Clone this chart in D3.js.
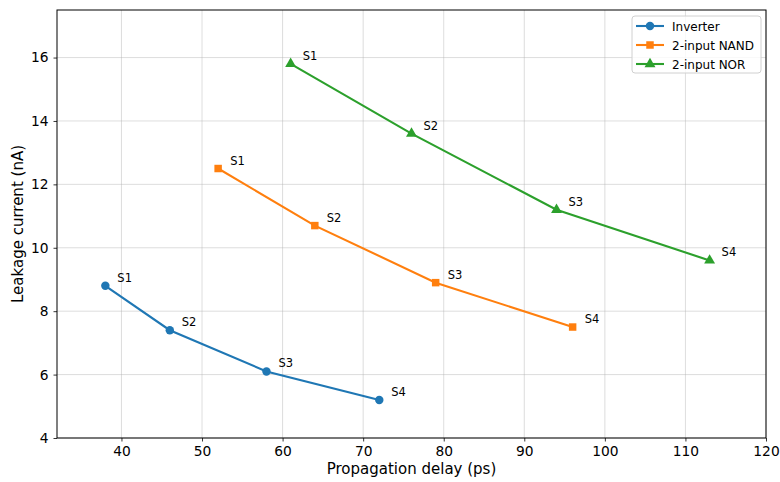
<!DOCTYPE html>
<html>
<head>
<meta charset="utf-8">
<script src="https://cdn.jsdelivr.net/npm/d3@7"></script>
<style>
  body { margin: 0; background: #fff; }
  svg { display: block; font-family: "DejaVu Sans", sans-serif; }
</style>
</head>
<body>
<div id="chart"></div>
<script>
// data
const stageLabels = ["S1", "S2", "S3", "S4"];
const inverterDelay = [38, 46, 58, 72];
const inverterLeak = [8.8, 7.4, 6.1, 5.2];
const nandDelay = [52, 64, 79, 96];
const nandLeak = [12.5, 10.7, 8.9, 7.5];
const norDelay = [61, 76, 94, 113];
const norLeak = [15.8, 13.6, 11.2, 9.6];
const xTicks = [40, 50, 60, 70, 80, 90, 100, 110, 120];
const yTicks = [4, 6, 8, 10, 12, 14, 16];

const series = [
  { name: "Inverter", x: inverterDelay, y: inverterLeak, color: "#1f77b4", marker: "circle" },
  { name: "2-input NAND", x: nandDelay, y: nandLeak, color: "#ff7f0e", marker: "square" },
  { name: "2-input NOR", x: norDelay, y: norLeak, color: "#2ca02c", marker: "triangle" }
];

const width = 780, height = 482;
const margin = { top: 10, right: 14, bottom: 44, left: 57 };

const svg = d3.select("#chart").append("svg")
  .attr("width", width).attr("height", height);

const x = d3.scaleLinear().domain([32, 120]).range([margin.left, width - margin.right]);
const y = d3.scaleLinear().domain([4, 17.5]).range([height - margin.bottom, margin.top]);

// grid
const grid = svg.append("g").attr("stroke", "#b0b0b0").attr("stroke-opacity", 0.55).attr("stroke-width", 0.8);
grid.selectAll(".gx").data(xTicks).enter().append("line")
  .attr("x1", d => x(d)).attr("x2", d => x(d))
  .attr("y1", y.range()[0]).attr("y2", y.range()[1]);
grid.selectAll(".gy").data(yTicks).enter().append("line")
  .attr("x1", x.range()[0]).attr("x2", x.range()[1])
  .attr("y1", d => y(d)).attr("y2", d => y(d));

// axes
const xAxis = svg.append("g")
  .attr("transform", `translate(0,${height - margin.bottom})`)
  .call(d3.axisBottom(x).tickValues(xTicks).tickSize(3.5).tickPadding(5));
const yAxis = svg.append("g")
  .attr("transform", `translate(${margin.left},0)`)
  .call(d3.axisLeft(y).tickValues(yTicks).tickSize(3.5).tickPadding(5));
[xAxis, yAxis].forEach(a => {
  a.select(".domain").remove();
  a.selectAll("text").attr("font-size", 13.8).attr("fill", "#000").attr("font-family", "DejaVu Sans");
  a.selectAll("line").attr("stroke", "#000").attr("stroke-width", 0.8);
});

// frame
svg.append("rect")
  .attr("x", margin.left).attr("y", margin.top)
  .attr("width", width - margin.left - margin.right)
  .attr("height", height - margin.top - margin.bottom)
  .attr("fill", "none").attr("stroke", "#000").attr("stroke-width", 1);

// axis labels
svg.append("text")
  .attr("x", x(76)).attr("y", 474)
  .attr("text-anchor", "middle").attr("font-size", 15)
  .text("Propagation delay (ps)");
svg.append("text")
  .attr("transform", `translate(23,${y(10.75)}) rotate(-90)`)
  .attr("text-anchor", "middle").attr("font-size", 15)
  .text("Leakage current (nA)");

const symbols = { circle: d3.symbolCircle, square: d3.symbolSquare, triangle: d3.symbolTriangle };
const symSize = { circle: 56, square: 56, triangle: 52 };

const line = d3.line().x(d => x(d[0])).y(d => y(d[1]));

series.forEach(s => {
  const pts = s.x.map((v, i) => [v, s.y[i], stageLabels[i]]);
  const g = svg.append("g");
  g.append("path").datum(pts)
    .attr("d", line).attr("fill", "none")
    .attr("stroke", s.color).attr("stroke-width", 2.1);
  g.selectAll("path.m").data(pts).enter().append("path")
    .attr("class", "m")
    .attr("transform", d => `translate(${x(d[0])},${y(d[1])})`)
    .attr("d", d3.symbol().type(symbols[s.marker]).size(symSize[s.marker]))
    .attr("fill", s.color);
  g.selectAll("text").data(pts).enter().append("text")
    .attr("x", d => x(d[0]) + 12).attr("y", d => y(d[1]) - 4)
    .attr("font-size", 11.5).attr("fill", "#000")
    .text(d => d[2]);
});

// legend
const lg = svg.append("g").attr("transform", "translate(632,16)");
lg.append("rect").attr("width", 129).attr("height", 57).attr("rx", 3)
  .attr("fill", "#fff").attr("fill-opacity", 0.8)
  .attr("stroke", "#d0d0d0").attr("stroke-width", 1);
series.forEach((s, i) => {
  const yy = 10 + i * 19;
  lg.append("line").attr("x1", 4).attr("x2", 32).attr("y1", yy).attr("y2", yy)
    .attr("stroke", s.color).attr("stroke-width", 2.1);
  lg.append("path").attr("transform", `translate(18,${yy})`)
    .attr("d", d3.symbol().type(symbols[s.marker]).size(symSize[s.marker]))
    .attr("fill", s.color);
  lg.append("text").attr("x", 40).attr("y", yy + 4.5)
    .attr("font-size", 12).text(s.name);
});
</script>
</body>
</html>
